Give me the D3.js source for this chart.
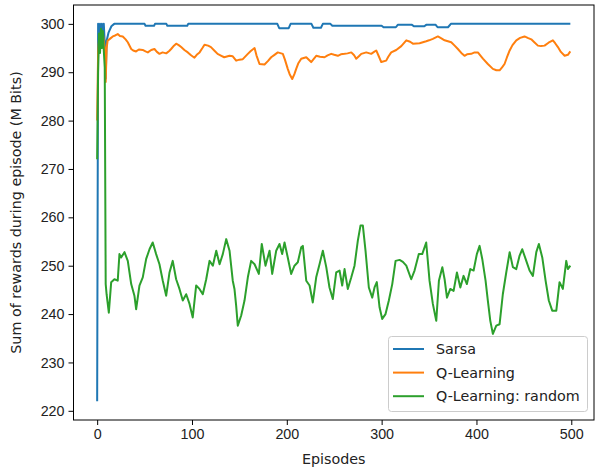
<!DOCTYPE html>
<html>
<head>
<meta charset="utf-8">
<script src="https://cdn.jsdelivr.net/npm/d3@7"></script>
<style>
  body { margin: 0; background: #fff; }
  svg { display: block; font-family: "DejaVu Sans", sans-serif; }
  .tick text { font-size: 14.3px; fill: #222; }
  .axis path, .axis line { stroke: #000; }
</style>
</head>
<body>
<div id="content"></div>
<script>
"use strict";

// [episode, reward] pairs
var sarsa = [[0,222],[1,300],[2,297],[3,300],[4,296.5],[5,300],[6,297],[7,300],[8,296],[9,288.7],
  [10,296.5],[12,298.2],[15,299.5],[18,300],[50,300],[51,299.6],[60,299.6],[61,300],[73,300],
  [74,299.6],[95,299.6],[96,300],[190,300],[192,299.1],[202,299.1],[204,300],[226,300],
  [228,299.2],[236,299.2],[238,300],[246,300],[248,299.6],[300,299.6],[302,299.3],[315,299.3],
  [317,299.8],[332,299.8],[334,299.5],[345,299.5],[347,299.8],[357,299.8],[359,299.3],
  [370,299.3],[373,300],[499,300]];

var qlearn = [[0,280],[1,294],[2,297],[3,295.5],[4,297.5],[5,296],[6,298],[7,296.5],[8,295],[9,288],
  [10,295],[11,296.5],[14,297],[16.5,297.4],[19,297.6],[21.7,297.9],[24,297.5],[27,297.4],[30,296.8],
  [32.3,296.2],[35.9,294.8],[38,294.5],[41,294.3],[44,294.7],[48,294.6],[51,294.3],[53.4,294.1],
  [57,294.6],[60.4,294.8],[63,294.2],[65.7,293.8],[69,294.1],[72.8,293.9],[76,294.4],[78,294.8],
  [81,295.5],[83.3,295.9],[86,295.6],[88.6,295.2],[92,294.6],[95.6,294.1],[99,293.5],[102.6,293],
  [105,293.6],[108,294.1],[111,295],[113.2,295.7],[117,295.5],[120,295.2],[124,294.4],[127,293.8],
  [131,293.4],[134,293.1],[139.6,293.4],[143,293.3],[146.6,292.4],[150,292.6],[153.6,292.7],
  [158.9,293.8],[162,294.4],[166,295],[168,293.5],[171.2,291.7],[176.5,291.6],[180,292.3],
  [183.5,293.1],[187,293.6],[190.5,294.1],[195.8,293.8],[198,292.6],[201,290.7],[203,289.6],
  [205.7,288.6],[208,289.6],[209.9,290.7],[212,291.8],[215.2,292.8],[220.5,293.1],[225.7,292.1],
  [231,293.4],[235,293.2],[239.8,293.1],[243,293.5],[246.8,293.8],[250,293.6],[253.8,293.4],
  [257,293.7],[260.9,293.8],[264,293.9],[268,294.1],[271,293.5],[273.2,292.8],[276,293.3],
  [278.5,293.8],[283.8,294.1],[289,293.8],[292,294.2],[294.3,294.5],[297,293.3],[299.6,292.1],
  [304.8,292.4],[307,293.2],[310.1,294.1],[315.4,294.6],[320.7,295.4],[326,296.6],[330,296.3],
  [333,295.9],[340,296],[347,296.4],[350,296.6],[354,296.9],[359.3,297.4],[363,297],
  [366.4,296.6],[373.4,296.2],[377,295.5],[380.4,294.8],[384,294],[387.4,293.4],[390,293.7],
  [394.5,293.8],[398,294.1],[401.5,294.1],[404,293.5],[406.8,292.8],[412,291.7],[417.3,290.7],
  [421,290.4],[424.4,290.4],[427,291],[429.6,291.7],[432,293],[435,294.5],[438,295.6],
  [442,296.6],[446,297.1],[450.7,297.4],[454,297.1],[457.8,296.8],[461,296.2],[464.8,295.5],
  [468,295.4],[471.8,295.5],[476,296.1],[480.6,296.6],[483,296],[485.9,295.2],[489,294.2],
  [493,293.4],[496.4,293.6],[499,294.3]];

var qrandom = [[0,272],[1,290],[2,298],[3,294],[4,299],[5,295],[6,298.5],[7,294.5],[8,291],[9,246.2],
  [10,244],[12.3,240.3],[14.8,246.6],[18.2,247.2],[21.7,246.9],[23.5,252.4],[25.3,251.7],
  [28.8,252.8],[32.3,251],[35.9,246.2],[39.3,243.8],[41.1,241],[44.6,245.9],[48.1,247.6],
  [51.7,251.4],[55.2,253.4],[58.6,254.8],[62.2,252.4],[65.7,250.3],[69.2,246.9],[72.8,243.8],
  [76.3,248.6],[79.7,251],[83.3,247.2],[86.8,245.2],[90.3,242.8],[93.9,244.1],[97.4,242.1],
  [100.8,239.3],[104.4,245.9],[107.9,245.2],[111.4,244.1],[115,247.2],[118.5,251],[122,250],
  [125.6,253.1],[129.1,250.3],[132.5,252.4],[136.1,255.5],[139.6,253.1],[143,246.9],
  [144.8,245.2],[146.6,241.7],[148.3,237.6],[151.9,239.7],[155.4,242.8],[158.9,247.6],
  [162.4,251],[166,250.3],[170.5,248.3],[173.6,254.5],[177.5,250],[181.8,253.1],[184.6,248.3],
  [188.8,253.1],[192.3,254.5],[195.1,252.4],[197.6,254.8],[201,251.7],[204.6,248.3],[208.1,250],
  [211.6,250.7],[215.2,253.8],[216.9,254.1],[220.5,246.9],[224,245.9],[227.4,242.4],[231,247.6],
  [234.5,250.3],[238,253.1],[241.6,249.7],[245,245.5],[248.5,243.1],[252.1,248.6],[255.6,249],
  [258.4,245.9],[260.9,249.3],[264.3,245.2],[268,247.6],[271.4,250],[274.9,255.2],[277.7,258.3],
  [280.2,258.3],[283,253.1],[286.5,245.5],[290.1,243.4],[292.5,245.5],[294.9,246.6],[297.8,241.4],
  [300.6,239],[304.1,240],[307.6,242.8],[311.2,246.2],[314.7,251],[318.9,251.2],[322.4,250.8],
  [326,250],[331.2,247.2],[334.7,249],[339.2,252.4],[342.8,252.4],[347,254.8],[350.5,246.9],
  [354,242.1],[357.6,238.6],[360.4,246.9],[364,249.7],[366.4,247.2],[368.9,243.4],[372.4,245.2],
  [375.9,244.8],[379.4,248.6],[383,245.5],[386.4,247.9],[389.9,246.2],[393.5,249.3],[397,249],
  [400.4,252.4],[403.3,254.1],[406.1,251.4],[409.6,246.9],[412,242.8],[414.6,238.6],[417.3,235.9],
  [420.9,237.6],[424.4,237.9],[427.8,244.1],[431.4,248.6],[435,252.8],[438.4,249.7],[442,249.3],
  [445.5,252.1],[448.3,253.4],[451.8,251.4],[456,249],[459.5,247.9],[463.1,252.8],[465.8,254.5],
  [469.4,251.7],[472.9,246.9],[476.3,242.8],[479.9,240.7],[484.2,240.7],[487.6,246.6],
  [491.1,245.2],[494.7,251],[496.4,249.3],[499,250]];

var seriesNames = ["Sarsa", "Q-Learning", "Q-Learning: random"];
var seriesColors = ["#1f77b4", "#ff7f0e", "#2ca02c"];
var xTicks = [0, 100, 200, 300, 400, 500];
var yTicks = [220, 230, 240, 250, 260, 270, 280, 290, 300];

var width = 599;
var height = 470;
var margin = {left: 73.5, right: 5, top: 5, bottom: 50};

var svg = d3.select('#content').append('svg')
  .attr('width', width)
  .attr('height', height);

var x = d3.scaleLinear().domain([-24.95, 523.95])
  .range([margin.left, width - margin.right]);
var y = d3.scaleLinear().domain([218.1, 303.9])
  .range([height - margin.bottom, margin.top]);

var line = d3.line()
  .x(function(d) { return x(d[0]); })
  .y(function(d) { return y(d[1]); });

var all = [sarsa, qlearn, qrandom];
// draw in matplotlib order so green sits on top
all.forEach(function(s, i) {
  svg.append('path')
    .datum(s)
    .attr('d', line)
    .attr('fill', 'none')
    .attr('stroke', seriesColors[i])
    .attr('stroke-width', 2)
    .attr('stroke-linejoin', 'round');
});

// frame
svg.append('rect')
  .attr('x', margin.left).attr('y', margin.top)
  .attr('width', width - margin.right - margin.left)
  .attr('height', height - margin.bottom - margin.top)
  .attr('fill', 'none').attr('stroke', '#000').attr('stroke-width', 1);

var xAxis = svg.append('g').attr('class', 'axis')
  .attr('transform', 'translate(0,' + (height - margin.bottom) + ')')
  .call(d3.axisBottom(x).tickValues(xTicks).tickSize(5).tickPadding(4).tickSizeOuter(0));
var yAxis = svg.append('g').attr('class', 'axis')
  .attr('transform', 'translate(' + margin.left + ',0)')
  .call(d3.axisLeft(y).tickValues(yTicks).tickSize(5).tickPadding(4).tickSizeOuter(0));
xAxis.select('.domain').remove();
yAxis.select('.domain').remove();

svg.append('text')
  .attr('x', (margin.left + width - margin.right) / 2)
  .attr('y', 464)
  .attr('text-anchor', 'middle')
  .style('font-size', '14.3px').style('fill', '#222')
  .text('Episodes');

svg.append('text')
  .attr('transform', 'translate(21,' + ((margin.top + height - margin.bottom) / 2) + ') rotate(-90)')
  .attr('text-anchor', 'middle')
  .style('font-size', '14.3px').style('fill', '#222')
  .text('Sum of rewards during episode (M Bits)');

// legend, lower right
var lg = svg.append('g');
lg.append('rect')
  .attr('x', 388.5).attr('y', 336.5)
  .attr('width', 199).attr('height', 75)
  .attr('rx', 3)
  .attr('fill', '#fff').attr('fill-opacity', 0.8)
  .attr('stroke', '#ccc');
seriesNames.forEach(function(n, i) {
  var yy = 349 + i * 23.6;
  lg.append('line')
    .attr('x1', 393).attr('x2', 424)
    .attr('y1', yy).attr('y2', yy)
    .attr('stroke', seriesColors[i]).attr('stroke-width', 2);
  lg.append('text')
    .attr('x', 436).attr('y', yy + 5)
    .style('font-size', '14.3px').style('fill', '#222')
    .text(n);
});
</script>
</body>
</html>
